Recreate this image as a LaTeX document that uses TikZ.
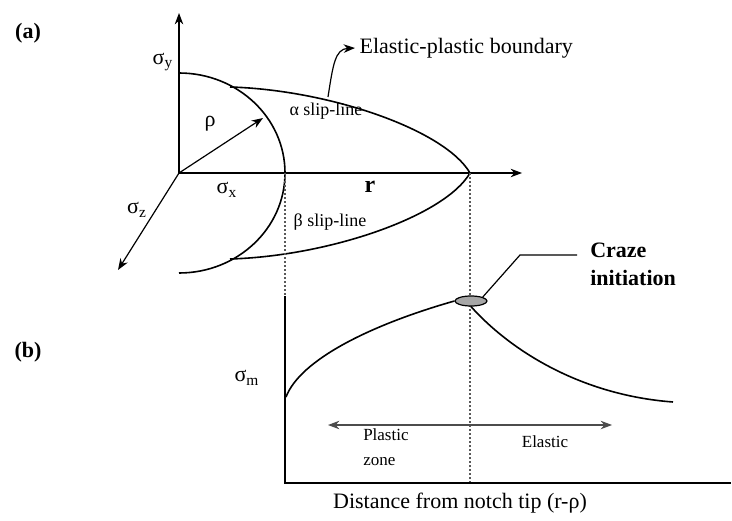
\documentclass[tikz,border=0pt]{standalone}
\usepackage{fontspec}
\setmainfont{Liberation Serif}
\usetikzlibrary{arrows.meta,shapes.geometric}
\tikzset{
  panel/.style={font=\bfseries\fontsize{11}{13}\selectfont},
  big/.style={font=\fontsize{11}{14}\selectfont},
  slip/.style={font=\fontsize{9}{11}\selectfont},
  zone/.style={font=\fontsize{8.5}{12.5}\selectfont,align=left},
  stress/.style={font=\fontsize{11}{13}\selectfont},
  plotaxis/.style={line width=1.3pt},
  guide/.style={gray!70!black,line width=0.6pt,dash pattern=on 1pt off 1pt},
  curve/.style={line width=0.8pt}
}
\begin{document}
\begin{tikzpicture}[>=Stealth,x=0.5pt,y=0.5pt,line width=0.6pt]
\useasboundingbox (0,0) rectangle (732,520);
% (a) notch tip
\coordinate (O) at (179,347);
\coordinate (yTop) at (179,507);
\coordinate (rEnd) at (522,347);
\coordinate (zEnd) at (118,250);
\coordinate (rhoEnd) at (263,402);
\coordinate (nTop) at (179,447);
\coordinate (nCut) at (285,347);
\coordinate (T) at (470,347);
\coordinate (aStart) at (230,433);
\coordinate (bStart) at (230,261);
\coordinate (epbFoot) at (328,423);
\draw[->] (O) -- (yTop);
\draw[->] (O) -- (rEnd);
\draw[->] (O) -- (zEnd);
\draw[->] (O) -- (rhoEnd);
\draw[curve] (nTop) arc[start angle=90,end angle=-90,x radius=106,y radius=100];
\draw[curve] (aStart) .. controls (330,430) and (445,390) .. (T);
\draw[curve] (bStart) .. controls (330,264) and (445,304) .. (T);
\node[panel] (lblA) at (28,487) {(a)};
\node[stress] (sy) at (163,458) {σ\textsubscript{y}};
\node[stress] (rho) at (210,396) {ρ};
\node[stress] (sx) at (227,330) {σ\textsubscript{x}};
\node[stress] (sz) at (137,310) {σ\textsubscript{z}};
\node[big,font=\bfseries\fontsize{12}{14}\selectfont] (r) at (370,333) {r};
\node[slip] (aLine) at (326,409) {α slip-line};
\node[slip] (bLine) at (330,298) {β slip-line};
\node[big,right,inner sep=2pt] (epb) at (355,472) {Elastic-plastic boundary};
\draw[->] (epbFoot) .. controls (333,455) and (335,471) .. (epb.west);
% (b) mean stress ahead of the notch
\coordinate (P0) at (285,224);
\coordinate (P1) at (285,37);
\coordinate (xEnd) at (731,37);
\coordinate (Tfoot) at (470,37);
\coordinate (sStart) at (286,123);
\coordinate (sEnd) at (673,118);
\coordinate (ldrKnee) at (520,265);
\coordinate (ldrEnd) at (577,265);
\coordinate (zoneL) at (328,95);
\coordinate (zoneR) at (612,95);
\draw[guide] (nCut) -- (P0);
\draw[guide] (T) -- (Tfoot);
\draw[plotaxis] (P0) -- (P1) -- (xEnd);
\node[draw,ellipse,fill=gray!70,line width=0.6pt,minimum width=16pt,minimum height=5pt,inner sep=0pt] (craze) at (471,219) {};
\draw[curve] (sStart) .. controls (300,160) and (370,195) .. (craze.west);
\draw[curve] (craze.south) .. controls (510,170) and (580,125) .. (sEnd);
\draw (craze.north east) -- (ldrKnee) -- (ldrEnd);
\node[right,align=left,font=\bfseries\fontsize{11}{14}\selectfont] (crazeTxt) at (583,256) {Craze\\initiation};
\draw[<->,gray!60!black] (zoneL) -- (zoneR);
\node[panel] (lblB) at (28,168) {(b)};
\node[stress] (sm) at (247,142) {σ\textsubscript{m}};
\node[zone,right] (plastic) at (356,73) {Plastic\\zone};
\node[zone] (elastic) at (545,78) {Elastic};
\node[big] (dist) at (460,17) {Distance from notch tip (r-ρ)};
\end{tikzpicture}
\end{document}
